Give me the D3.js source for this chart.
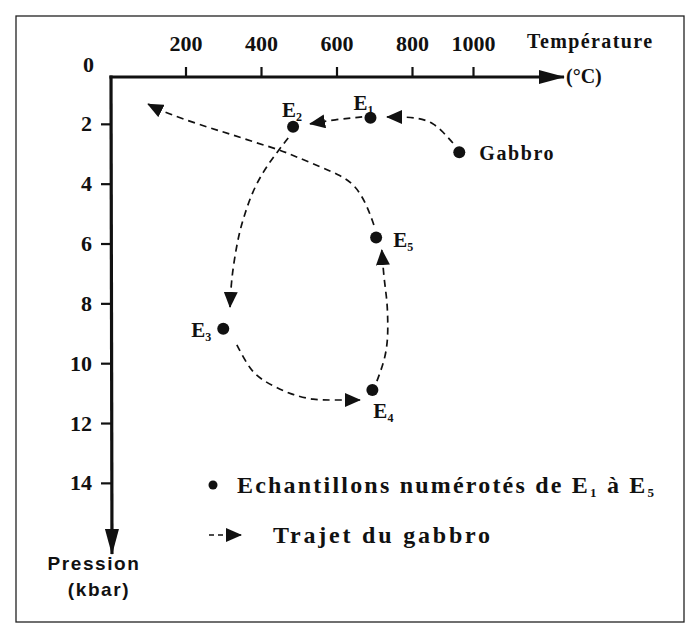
<!DOCTYPE html>
<html>
<head>
<meta charset="utf-8">
<script src="https://cdn.jsdelivr.net/npm/d3@7"></script>
<style>
  body { margin: 0; background: #fff; }
  text { font-family: "Liberation Serif", "DejaVu Serif", serif; font-weight: bold; fill: #111; }
  text.sans { font-family: "Liberation Sans", Arial, sans-serif; }
</style>
</head>
<body>
<svg id="chart" width="693" height="625"></svg>
<script>
// samples (temperature °C, pressure kbar)
const sampleNames = ["Gabbro", "E1", "E2", "E3", "E4", "E5"];
const sampleTemp = [955, 690, 485, 300, 695, 705];
const samplePress = [2.95, 1.8, 2.1, 8.85, 10.9, 5.8];

// legs of the gabbro path, [temp, pressure] points
const leg1 = [[934, 2.64], [902, 2.27], [869, 1.97], [823, 1.8], [776, 1.77], [734, 1.77]];
const leg2 = [[668, 1.77], [600, 1.85], [530, 2.0]];
const leg3 = [[472, 2.47], [437, 3.04], [405, 3.61], [376, 4.31], [358, 4.98], [344, 5.55], [331, 6.38], [321, 7.29], [318, 8.12]];
const leg4 = [[336, 9.39], [371, 10.23], [403, 10.56], [442, 10.83], [485, 11.06], [538, 11.23], [591, 11.23], [662, 11.23]];
const leg5 = [[707, 10.6], [728, 9.89], [736, 9.22], [736, 8.56], [734, 7.89], [726, 7.22], [720, 6.22]];
const leg6 = [[699, 5.38], [680, 4.7], [650, 4.05], [610, 3.72], [560, 3.45], [495, 3.11], [450, 2.87],
              [389, 2.64], [326, 2.37], [265, 2.14], [185, 1.8], [132, 1.54], [101, 1.34]];

const tempTicks = [200, 400, 600, 800, 1000];
const pressTicks = [0, 2, 4, 6, 8, 10, 12, 14];

const svg = d3.select("#chart");

// the original drawing squeezes the last 200 °C
const x = d3.scaleLinear().domain([0, 800, 1000]).range([110, 412, 473]);
const y = d3.scaleLinear().domain([0, 16]).range([64, 542.7]);
const axisY = 77, axisX = 111;

// frame
svg.append("rect")
    .attr("x", 16).attr("y", 16).attr("width", 668).attr("height", 606)
    .attr("fill", "none").attr("stroke", "#222").attr("stroke-width", 1.3);

const defs = svg.append("defs");
defs.append("marker")
    .attr("id", "head")
    .attr("markerUnits", "userSpaceOnUse")
    .attr("viewBox", "0 0 16 14")
    .attr("markerWidth", 16).attr("markerHeight", 14)
    .attr("refX", 15).attr("refY", 7)
    .attr("orient", "auto")
    .append("path").attr("d", "M0,0 L16,7 L0,14 Z").attr("fill", "#111");
defs.append("marker")
    .attr("id", "axhead")
    .attr("markerUnits", "userSpaceOnUse")
    .attr("viewBox", "0 0 26 16")
    .attr("markerWidth", 26).attr("markerHeight", 16)
    .attr("refX", 25).attr("refY", 8)
    .attr("orient", "auto")
    .append("path").attr("d", "M0,1 L26,8 L0,15 Z").attr("fill", "#111");

// temperature axis (top)
const xAxis = svg.append("g")
    .attr("transform", `translate(0,${axisY})`)
    .call(d3.axisTop(x).tickValues(tempTicks).tickFormat(d3.format("d")).tickSize(10).tickPadding(16));
xAxis.select(".domain").remove();
xAxis.selectAll(".tick line").attr("stroke", "#111").attr("stroke-width", 2.2);
xAxis.selectAll(".tick text").attr("font-size", 22).attr("fill", "#111");

svg.append("line")
    .attr("x1", axisX - 1.5).attr("y1", axisY).attr("x2", 564).attr("y2", axisY)
    .attr("stroke", "#111").attr("stroke-width", 3)
    .attr("marker-end", "url(#axhead)");

// pressure axis (left, pointing down)
const yAxis = svg.append("g")
    .attr("transform", `translate(${axisX},0)`)
    .call(d3.axisLeft(y).tickValues(pressTicks).tickSize(10).tickPadding(9));
yAxis.select(".domain").remove();
yAxis.selectAll(".tick line").attr("stroke", "#111").attr("stroke-width", 2.2)
    .filter(d => d === 0).remove();
yAxis.selectAll(".tick text").attr("font-size", 22).attr("fill", "#111");
yAxis.selectAll(".tick").filter(d => d === 0).select("text").attr("x", -17);

svg.append("line")
    .attr("x1", axisX).attr("y1", axisY - 1.5).attr("x2", axisX + 1).attr("y2", 554)
    .attr("stroke", "#111").attr("stroke-width", 3.2)
    .attr("marker-end", "url(#axhead)");

// axis titles
svg.append("text").attr("x", 527).attr("y", 48).attr("font-size", 20)
    .attr("letter-spacing", 1.4).text("Température");
svg.append("text").attr("x", 566).attr("y", 83).attr("font-size", 20).text("(°C)");
svg.append("text").attr("class", "sans").attr("x", 94).attr("y", 570)
    .attr("text-anchor", "middle").attr("font-size", 19).attr("letter-spacing", 1.6).text("Pression");
svg.append("text").attr("class", "sans").attr("x", 99).attr("y", 596)
    .attr("text-anchor", "middle").attr("font-size", 19).attr("letter-spacing", 1.6).text("(kbar)");

// gabbro path
const line = d3.line()
    .x(d => x(d[0]))
    .y(d => y(d[1]))
    .curve(d3.curveBasis);

svg.append("g").selectAll("path")
    .data([leg1, leg2, leg3, leg4, leg5, leg6])
    .join("path")
    .attr("d", line)
    .attr("fill", "none")
    .attr("stroke", "#111")
    .attr("stroke-width", 1.7)
    .attr("stroke-dasharray", "7,5")
    .attr("marker-end", "url(#head)");

// samples
const samples = sampleNames.map((n, i) => ({ name: n, t: sampleTemp[i], p: samplePress[i] }));

svg.append("g").selectAll("circle")
    .data(samples)
    .join("circle")
    .attr("cx", d => x(d.t))
    .attr("cy", d => y(d.p))
    .attr("r", 6)
    .attr("fill", "#111");

const labelOffset = {
    Gabbro: [20, 8], E1: [-17, -8], E2: [-11, -10], E3: [-32, 8], E4: [1, 28], E5: [17, 9]
};

const labels = svg.append("g").selectAll("text")
    .data(samples)
    .join("text")
    .attr("x", d => x(d.t) + labelOffset[d.name][0])
    .attr("y", d => y(d.p) + labelOffset[d.name][1])
    .attr("font-size", d => d.name === "Gabbro" ? 20 : 21)
    .attr("letter-spacing", d => d.name === "Gabbro" ? 1.6 : 0);

labels.filter(d => d.name === "Gabbro").text(d => d.name);
labels.filter(d => d.name !== "Gabbro").each(function(d) {
    const t = d3.select(this);
    t.append("tspan").text(d.name[0]);
    t.append("tspan").attr("dy", 4).attr("font-size", 12).text(d.name.slice(1));
});

// legend
svg.append("circle").attr("cx", 213).attr("cy", 485).attr("r", 4.5).attr("fill", "#111");
const leg = svg.append("text").attr("x", 237).attr("y", 493).attr("font-size", 24).attr("letter-spacing", 2.2);
leg.append("tspan").text("Echantillons numérotés de E");
leg.append("tspan").attr("dy", 4).attr("font-size", 13).text("1");
leg.append("tspan").attr("dy", -4).text(" à E");
leg.append("tspan").attr("dy", 4).attr("font-size", 13).text("5");

svg.append("line")
    .attr("x1", 209).attr("y1", 535).attr("x2", 241).attr("y2", 535)
    .attr("stroke", "#111").attr("stroke-width", 1.7)
    .attr("stroke-dasharray", "5,4")
    .attr("marker-end", "url(#head)");
svg.append("text").attr("x", 273).attr("y", 543).attr("font-size", 24).attr("letter-spacing", 2.8)
    .text("Trajet du gabbro");
</script>
</body>
</html>
